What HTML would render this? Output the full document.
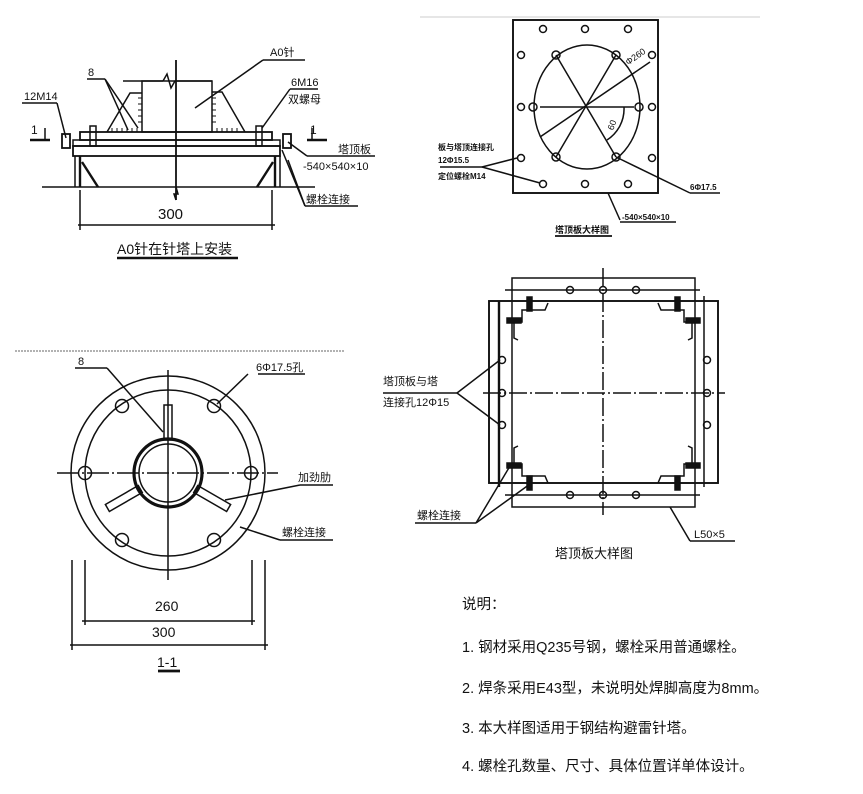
<!DOCTYPE html>
<html><head><meta charset="utf-8">
<style>
html,body{margin:0;padding:0;background:#fff;}
svg{display:block;}
text{font-family:"Liberation Sans","Noto Sans CJK SC",sans-serif;fill:#111;}
</style></head>
<body>
<svg width="863" height="794" viewBox="0 0 863 794" xmlns="http://www.w3.org/2000/svg">
<g stroke="#111" fill="none" stroke-width="1.5">
<!-- ===== Top-left elevation ===== -->
<line x1="123" y1="81" x2="163" y2="81"/>
<polyline points="163,81 167,74 171,88 175,81 212,81"/>
<rect x="142" y="81" width="70" height="51"/>
<line x1="176" y1="60" x2="176" y2="200" stroke-width="1.8"/>
<polyline points="107,132 130,93 142,93"/>
<polyline points="212,92 222,92 245,132"/>
<g stroke-width="1">
<line x1="112" y1="128" x2="112" y2="132"/><line x1="117" y1="128" x2="117" y2="132"/><line x1="122" y1="128" x2="122" y2="132"/><line x1="127" y1="128" x2="127" y2="132"/><line x1="132" y1="128" x2="132" y2="132"/><line x1="137" y1="128" x2="137" y2="132"/>
<line x1="138" y1="98" x2="142" y2="98"/><line x1="138" y1="104" x2="142" y2="104"/><line x1="138" y1="110" x2="142" y2="110"/><line x1="138" y1="116" x2="142" y2="116"/><line x1="138" y1="122" x2="142" y2="122"/>
<line x1="217" y1="128" x2="217" y2="132"/><line x1="222" y1="128" x2="222" y2="132"/><line x1="227" y1="128" x2="227" y2="132"/><line x1="232" y1="128" x2="232" y2="132"/><line x1="237" y1="128" x2="237" y2="132"/>
<line x1="212" y1="98" x2="216" y2="98"/><line x1="212" y1="104" x2="216" y2="104"/><line x1="212" y1="110" x2="216" y2="110"/><line x1="212" y1="116" x2="216" y2="116"/><line x1="212" y1="122" x2="216" y2="122"/>
</g>
<line x1="87" y1="79" x2="105" y2="79"/>
<line x1="105" y1="79" x2="128" y2="130"/>
<line x1="105" y1="79" x2="138" y2="128"/>
<line x1="263" y1="60" x2="305" y2="60"/>
<line x1="263" y1="60" x2="195" y2="108"/>
<rect x="80" y="132" width="192" height="8" stroke-width="1.8"/>
<rect x="73" y="140" width="207" height="6"/>
<rect x="73" y="146" width="207" height="10" stroke-width="1.8"/>
<rect x="62" y="134" width="8" height="14" stroke-width="1.8"/>
<rect x="283" y="134" width="8" height="14" stroke-width="1.8"/>
<line x1="75" y1="156" x2="75" y2="187"/>
<line x1="80" y1="156" x2="80" y2="187" stroke-width="2.4"/>
<line x1="275" y1="156" x2="275" y2="187" stroke-width="2.4"/>
<line x1="280" y1="156" x2="280" y2="187"/>
<line x1="82" y1="162" x2="98" y2="187" stroke-width="2.4"/>
<line x1="273" y1="162" x2="257" y2="187" stroke-width="2.4"/>
<rect x="90" y="126" width="6" height="20"/>
<rect x="256" y="126" width="6" height="20"/>
<line x1="42" y1="187" x2="315" y2="187"/>
<polyline points="176,187 178,194 174,194 176,200"/>
<line x1="80" y1="190" x2="80" y2="230"/>
<line x1="272" y1="190" x2="272" y2="230"/>
<line x1="78" y1="225" x2="275" y2="225"/>
<line x1="22" y1="103" x2="57" y2="103"/>
<line x1="57" y1="103" x2="66" y2="138"/>
<line x1="290" y1="89" x2="318" y2="89"/>
<line x1="290" y1="89" x2="262" y2="128"/>
<line x1="307" y1="156" x2="375" y2="156"/>
<line x1="307" y1="156" x2="288" y2="142"/>
<line x1="305" y1="206" x2="358" y2="206"/>
<line x1="305" y1="206" x2="282" y2="150"/>
<line x1="305" y1="206" x2="288" y2="160"/>
<line x1="30" y1="140" x2="50" y2="140" stroke-width="2.4"/>
<line x1="45" y1="128" x2="45" y2="140"/>
<line x1="307" y1="140" x2="327" y2="140" stroke-width="2.4"/>
<line x1="312" y1="128" x2="312" y2="140"/>
<line x1="117" y1="258" x2="238" y2="258" stroke-width="2.4"/>

<!-- ===== Top-right plate ===== -->
<line x1="420" y1="17" x2="760" y2="17" stroke="#ddd"/>
<rect x="513" y="20" width="145" height="173" stroke-width="1.9"/>
<ellipse cx="587" cy="107" rx="53" ry="62"/>
<line x1="540" y1="107" x2="634" y2="107"/>
<line x1="556" y1="55" x2="616" y2="157"/>
<line x1="616" y1="55" x2="556" y2="157"/>
<line x1="540" y1="137" x2="650" y2="62"/>
<path d="M624,107 A37,37 0 0 1 607,140"/>
<g>
<circle cx="543" cy="29" r="3.5"/><circle cx="585" cy="29" r="3.5"/><circle cx="628" cy="29" r="3.5"/>
<circle cx="543" cy="184" r="3.5"/><circle cx="585" cy="184" r="3.5"/><circle cx="628" cy="184" r="3.5"/>
<circle cx="521" cy="55" r="3.5"/><circle cx="521" cy="107" r="3.5"/><circle cx="521" cy="158" r="3.5"/>
<circle cx="652" cy="55" r="3.5"/><circle cx="652" cy="107" r="3.5"/><circle cx="652" cy="158" r="3.5"/>
<circle cx="556" cy="55" r="4"/><circle cx="616" cy="55" r="4"/>
<circle cx="533" cy="107" r="4"/><circle cx="639" cy="107" r="4"/>
<circle cx="556" cy="157" r="4"/><circle cx="616" cy="157" r="4"/>
</g>
<line x1="440" y1="167" x2="482" y2="167"/>
<line x1="482" y1="167" x2="517" y2="158"/>
<line x1="482" y1="167" x2="540" y2="183"/>
<line x1="616" y1="157" x2="690" y2="193"/>
<line x1="690" y1="193" x2="720" y2="193"/>
<line x1="608" y1="193" x2="620" y2="220"/>
<line x1="620" y1="222" x2="676" y2="222"/>
<line x1="555" y1="236" x2="612" y2="236" stroke-width="1.8"/>

<!-- ===== Bottom-right plate ===== -->
<rect x="489" y="301" width="229" height="182" stroke-width="1.9"/>
<rect x="512" y="278" width="183" height="229"/>
<line x1="505" y1="290" x2="700" y2="290"/>
<line x1="505" y1="495" x2="700" y2="495"/>
<line x1="499" y1="301" x2="499" y2="487" stroke-width="2.4"/>
<line x1="704" y1="296" x2="704" y2="487"/>
<line x1="603" y1="268" x2="603" y2="515" stroke-dasharray="18,3,2,3"/>
<line x1="483" y1="393" x2="725" y2="393" stroke-dasharray="18,3,2,3"/>
<g>
<circle cx="570" cy="290" r="3.5"/><circle cx="603" cy="290" r="3.5"/><circle cx="636" cy="290" r="3.5"/>
<circle cx="570" cy="495" r="3.5"/><circle cx="603" cy="495" r="3.5"/><circle cx="636" cy="495" r="3.5"/>
<circle cx="502" cy="360" r="3.5"/><circle cx="502" cy="393" r="3.5"/><circle cx="502" cy="425" r="3.5"/>
<circle cx="707" cy="360" r="3.5"/><circle cx="707" cy="393" r="3.5"/><circle cx="707" cy="425" r="3.5"/>
</g>
<polyline points="548,303 545,310 522,310 522,322 514,322 514,338 518,340"/>
<polyline points="658,303 661,310 684,310 684,322 692,322 692,338 688,340"/>
<polyline points="548,483 545,476 522,476 522,464 514,464 514,448 518,446"/>
<polyline points="658,483 661,476 684,476 684,464 692,464 692,448 688,446"/>
<rect x="527" y="297" width="5" height="14" fill="#111"/>
<rect x="507" y="318" width="14" height="5" fill="#111"/>
<rect x="675" y="297" width="5" height="14" fill="#111"/>
<rect x="686" y="318" width="14" height="5" fill="#111"/>
<rect x="527" y="476" width="5" height="14" fill="#111"/>
<rect x="507" y="463" width="14" height="5" fill="#111"/>
<rect x="675" y="476" width="5" height="14" fill="#111"/>
<rect x="686" y="463" width="14" height="5" fill="#111"/>
<line x1="383" y1="393" x2="457" y2="393"/>
<line x1="457" y1="393" x2="500" y2="360"/>
<line x1="457" y1="393" x2="500" y2="425"/>
<line x1="415" y1="523" x2="476" y2="523"/>
<line x1="476" y1="523" x2="510" y2="466"/>
<line x1="476" y1="523" x2="530" y2="484"/>
<line x1="670" y1="507" x2="690" y2="541"/>
<line x1="690" y1="541" x2="735" y2="541"/>

<!-- ===== Bottom-left section 1-1 ===== -->
<line x1="15" y1="351" x2="345" y2="351" stroke="#999" stroke-dasharray="2,1"/>
<circle cx="168" cy="473" r="97"/>
<circle cx="168" cy="473" r="83"/>
<circle cx="168" cy="473" r="34" stroke-width="3.2"/>
<circle cx="168" cy="473" r="29"/>
<line x1="57" y1="473" x2="278" y2="473" stroke-dasharray="22,3,2,3"/>
<line x1="168" y1="370" x2="168" y2="580"/>
<g>
<circle cx="122" cy="406" r="6.5"/><circle cx="214" cy="406" r="6.5"/>
<circle cx="85" cy="473" r="6.5"/><circle cx="251" cy="473" r="6.5"/>
<circle cx="122" cy="540" r="6.5"/><circle cx="214" cy="540" r="6.5"/>
</g>
<rect x="164" y="405" width="8" height="35"/>
<g transform="rotate(120 168 473)"><rect x="164" y="403" width="8" height="38"/></g>
<g transform="rotate(240 168 473)"><rect x="164" y="403" width="8" height="38"/></g>
<line x1="75" y1="368" x2="107" y2="368"/>
<line x1="107" y1="368" x2="163" y2="432"/>
<line x1="258" y1="374" x2="305" y2="374"/>
<line x1="248" y1="374" x2="217" y2="404"/>
<line x1="300" y1="485" x2="333" y2="485"/>
<line x1="300" y1="485" x2="225" y2="500"/>
<line x1="280" y1="540" x2="333" y2="540"/>
<line x1="280" y1="540" x2="240" y2="527"/>
<line x1="72" y1="560" x2="72" y2="650"/>
<line x1="85" y1="560" x2="85" y2="625"/>
<line x1="252" y1="560" x2="252" y2="625"/>
<line x1="265" y1="560" x2="265" y2="650"/>
<line x1="82" y1="621" x2="255" y2="621"/>
<line x1="70" y1="645" x2="268" y2="645"/>
<line x1="158" y1="671" x2="180" y2="671" stroke-width="2.8"/>
</g>

<!-- ===== Text ===== -->
<g font-size="11">
<text x="270" y="56">A0针</text>
<text x="88" y="76">8</text>
<text x="24" y="100">12M14</text>
<text x="291" y="86">6M16</text>
<text x="288" y="103">双螺母</text>
<text x="31" y="134" font-size="12">1</text>
<text x="310" y="134" font-size="12">1</text>
<text x="338" y="153">塔顶板</text>
<text x="303" y="170">-540×540×10</text>
<text x="306" y="203">螺栓连接</text>
</g>
<text x="158" y="219" font-size="15">300</text>
<text x="117" y="254" font-size="14">A0针在针塔上安装</text>

<g font-size="8" font-weight="bold">
<text x="438" y="150">板与塔顶连接孔</text>
<text x="438" y="163">12Φ15.5</text>
<text x="438" y="179">定位螺栓M14</text>
<text x="690" y="190">6Φ17.5</text>
<text x="622" y="220">-540×540×10</text>
<text x="555" y="233" font-size="9">塔顶板大样图</text>
</g>
<text x="627" y="62" font-size="9" transform="rotate(-35 633 62)">Φ260</text>
<text x="607" y="128" font-size="9" transform="rotate(-70 612 125)">60</text>

<g font-size="11">
<text x="383" y="385">塔顶板与塔</text>
<text x="383" y="406">连接孔12Φ15</text>
<text x="417" y="519">螺栓连接</text>
<text x="694" y="538">L50×5</text>
</g>
<text x="555" y="558" font-size="13">塔顶板大样图</text>

<g font-size="11">
<text x="78" y="365">8</text>
<text x="256" y="371">6Φ17.5孔</text>
<text x="298" y="481">加劲肋</text>
<text x="282" y="536">螺栓连接</text>
</g>
<text x="155" y="611" font-size="14">260</text>
<text x="152" y="637" font-size="14">300</text>
<text x="157" y="667" font-size="14">1-1</text>

<g font-size="14.5">
<text x="462" y="609">说明：</text>
<text x="462" y="652">1. 钢材采用Q235号钢，螺栓采用普通螺栓。</text>
<text x="462" y="693">2. 焊条采用E43型，未说明处焊脚高度为8mm。</text>
<text x="462" y="733">3. 本大样图适用于钢结构避雷针塔。</text>
<text x="462" y="771">4. 螺栓孔数量、尺寸、具体位置详单体设计。</text>
</g>
</svg>
</body></html>
